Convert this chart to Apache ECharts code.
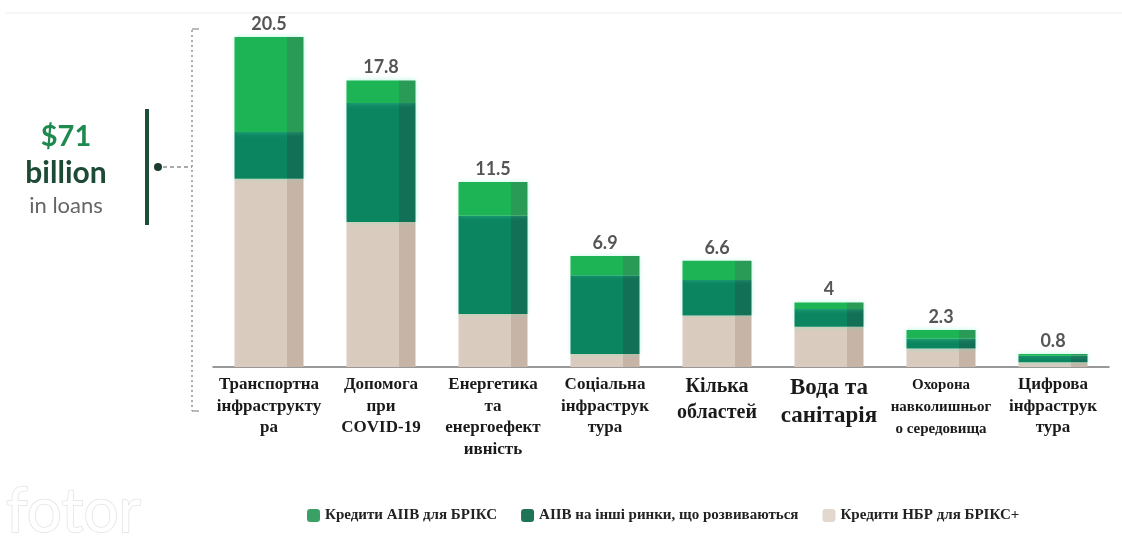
<!DOCTYPE html>
<html>
<head>
<meta charset="utf-8">
<script src="https://cdn.jsdelivr.net/npm/echarts@6/dist/echarts.min.js"></script>
<style>
html,body{margin:0;padding:0;background:#fff;}
#chart{width:1122px;height:542px;}
</style>
</head>
<body>
<div id="chart"></div>
<script>
// ---- data ----
var categories = [
  'Транспортна\nінфраструкту\nра',
  'Допомога\nпри\nCOVID-19',
  'Енергетика\nта\nенергоефект\nивність',
  'Соціальна\nінфраструк\nтура',
  'Кілька\nобластей',
  'Вода та\nсанітарія',
  'Охорона\nнавколишньог\nо середовища',
  'Цифрова\nінфраструк\nтура'
];
var totals = [20.5, 17.8, 11.5, 6.9, 6.6, 4, 2.3, 0.8];
var ndbBrics = [11.7, 9.0, 3.3, 0.8, 3.2, 2.5, 1.15, 0.3];     // beige
var aiibOther = [2.9, 7.4, 6.1, 4.9, 2.2, 1.1, 0.6, 0.4];      // dark green
var aiibBrics = [5.9, 1.4, 2.1, 1.2, 1.2, 0.4, 0.55, 0.1];     // light green
var seriesNames = ['Кредити AIIB для БРІКС', 'AIIB на інші ринки, що розвиваються', 'Кредити НБР для БРІКС+'];
var labelStyleKeys = ['n','n','n','n','m','l','s','n'];

function split(c, d){
  return {type:'linear',x:0,y:0,x2:1,y2:0,colorStops:[
    {offset:0,color:c},{offset:0.76,color:c},{offset:0.76,color:d},{offset:1,color:d}]};
}

var chart = echarts.init(document.getElementById('chart'));
var serif = '"Liberation Serif", "DejaVu Serif", serif';
var option = {
  animation:false,
  backgroundColor:'#fff',
  grid:{left:213, right:13, top:37, height:330},
  legend:{
    left:302, top:503, itemWidth:13, itemHeight:13, itemGap:24,
    textStyle:{fontFamily:serif, fontWeight:'bold', fontSize:15, color:'#222'},
    data:[
      {name:seriesNames[0], itemStyle:{color:'#3aa065'}},
      {name:seriesNames[1], itemStyle:{color:'#1f7458'}},
      {name:seriesNames[2], itemStyle:{color:'#e2d8ce'}}
    ]
  },
  xAxis:{
    type:'category', data:categories,
    axisLine:{show:true, lineStyle:{color:'#777', width:1.5}},
    axisTick:{show:false},
    axisLabel:{
      interval:0, margin:7, color:'#1a1a1a',
      formatter:function(v, i){
        var k = labelStyleKeys[i];
        return v.split('\n').map(function(l){return '{'+k+'|'+l+'}';}).join('\n');
      },
      rich:{
        n:{fontFamily:serif, fontWeight:'bold', fontSize:17, lineHeight:21.5, color:'#1a1a1a'},
        m:{fontFamily:serif, fontWeight:'bold', fontSize:20, lineHeight:26, color:'#1a1a1a'},
        l:{fontFamily:serif, fontWeight:'bold', fontSize:23, lineHeight:28, color:'#1a1a1a'},
        s:{fontFamily:serif, fontWeight:'bold', fontSize:15, lineHeight:22, color:'#1a1a1a'}
      }
    }
  },
  yAxis:{type:'value', min:0, max:20.5, show:false, splitLine:{show:false}},
  series:[
    {
      name:seriesNames[2], type:'bar', stack:'t', barWidth:69, data:ndbBrics,
      itemStyle:{color:split('#dacbbf','#c6b4a7')}
    },
    {
      name:seriesNames[1], type:'bar', stack:'t', barWidth:69, data:aiibOther,
      itemStyle:{color:split('#0b8560','#117055'), shadowBlur:5, shadowColor:'rgba(90,240,180,0.45)'}
    },
    {
      name:seriesNames[0], type:'bar', stack:'t', barWidth:69, data:aiibBrics,
      itemStyle:{color:split('#1db455','#2a9a57'), shadowBlur:5, shadowColor:'rgba(90,240,180,0.45)'},
      label:{
        show:true, position:'top', distance:4,
        formatter:function(p){return totals[p.dataIndex];},
        fontFamily:'Lato, "Open Sans", sans-serif', fontWeight:'bold', fontSize:18, color:'#555'
      }
    }
  ],
  graphic:[
    {type:'line', shape:{x1:5,y1:13,x2:1122,y2:13}, style:{stroke:'#eeeeee', lineWidth:1}},
    {type:'text', style:{text:'$71', x:66, y:137, textAlign:'center', textVerticalAlign:'middle',
      font:'bold 29px Lato, "Open Sans", sans-serif', fill:'#1f8a4f'}},
    {type:'text', style:{text:'billion', x:66, y:173, textAlign:'center', textVerticalAlign:'middle',
      font:'bold 30px Lato, "Open Sans", sans-serif', fill:'#1d4a35'}},
    {type:'text', style:{text:'in loans', x:66, y:206, textAlign:'center', textVerticalAlign:'middle',
      font:'22px Lato, "Open Sans", sans-serif', fill:'#666'}},
    {type:'line', shape:{x1:147,y1:109,x2:147,y2:225}, style:{stroke:'#1c4d37', lineWidth:4}},
    {type:'circle', shape:{cx:158, cy:167, r:4}, style:{fill:'#1c3d2d'}},
    {type:'line', shape:{x1:163,y1:167,x2:192,y2:167}, style:{stroke:'#555', lineWidth:1.2, lineDash:[4,3]}},
    {type:'line', shape:{x1:192,y1:30,x2:192,y2:411}, style:{stroke:'#777', lineWidth:1.2, lineDash:[2,3]}},
    {type:'line', shape:{x1:192,y1:29,x2:199,y2:29}, style:{stroke:'#777', lineWidth:1}},
    {type:'line', shape:{x1:192,y1:411,x2:199,y2:411}, style:{stroke:'#777', lineWidth:1}},
    {type:'text', style:{text:'fotor', x:6, y:512, textVerticalAlign:'middle',
      font:'62px Lato, "Open Sans", sans-serif', fill:'#ffffff', stroke:'#e2e2e2', lineWidth:1.5}}
  ]
};
chart.setOption(option);
</script>
</body>
</html>
